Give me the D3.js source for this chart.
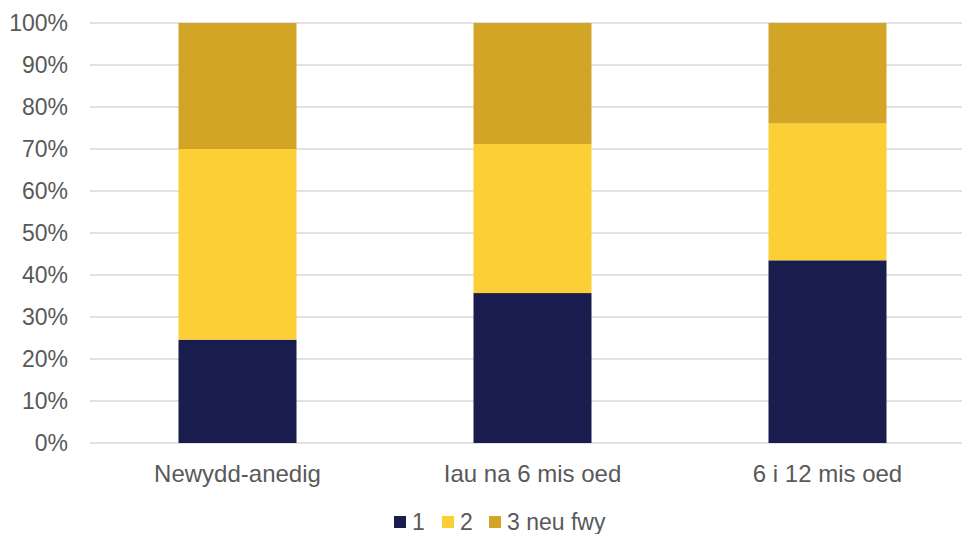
<!DOCTYPE html>
<html>
    <head>
        <title>Stacked 100% bars</title>
        <script src="https://d3js.org/d3.v7.min.js"></script>
        <style>
            body { margin: 0; background: #ffffff; }
            svg { display: block; }
            text { font-family: 'Liberation Sans', Arial, sans-serif; fill: #595959; }
        </style>
    </head>
    <body>
        <script>
            const categories = ['Newydd-anedig', 'Iau na 6 mis oed', '6 i 12 mis oed']
            const seriesNames = ['1', '2', '3 neu fwy']
            const seriesColors = ['#181D4E', '#FDCF36', '#D3A527']
            // share of each group, percent
            const values1 = [24.6, 35.7, 43.5]
            const values2 = [45.4, 35.5, 32.6]
            const values3 = [30.0, 28.8, 23.9]
            const yTicks = [0, 10, 20, 30, 40, 50, 60, 70, 80, 90, 100]

            const W = 962, H = 534
            const margin = { top: 23, right: 0, bottom: 91, left: 90 }

            const svg = d3.select('body').append('svg')
                .attr('width', W).attr('height', H)

            const rows = categories.map((c, i) => ({
                cat: c, s0: values1[i], s1: values2[i], s2: values3[i]
            }))
            const stack = d3.stack().keys(['s0', 's1', 's2'])(rows)

            const x = d3.scaleBand().domain(categories)
                .range([margin.left, margin.left + 885])
                .paddingInner(0.6).paddingOuter(0.3)
            const y = d3.scaleLinear().domain([0, 100])
                .range([H - margin.bottom, margin.top])

            // grid
            svg.append('g').selectAll('line')
                .data(yTicks).enter()
                .append('line')
                    .attr('x1', margin.left).attr('x2', W)
                    .attr('y1', d => y(d)).attr('y2', d => y(d))
                    .attr('stroke', '#d9d9d9').attr('stroke-width', 1.3)

            // bars
            svg.append('g').selectAll('g')
                .data(stack).enter()
                .append('g')
                    .attr('fill', (d, i) => seriesColors[i])
                .selectAll('rect')
                .data(d => d).enter()
                .append('rect')
                    .attr('x', d => x(d.data.cat))
                    .attr('width', x.bandwidth())
                    .attr('y', d => y(d[1]))
                    .attr('height', d => y(d[0]) - y(d[1]))

            // y axis
            const yAxis = d3.axisLeft(y).tickValues(yTicks)
                .tickFormat(d => d + '%').tickSize(0).tickPadding(22)
            const gy = svg.append('g')
                .attr('transform', `translate(${margin.left}, 0)`)
                .call(yAxis)
            gy.select('.domain').remove()
            gy.selectAll('text').style('font-size', '23px').attr('fill', '#595959')

            // x axis
            const xAxis = d3.axisBottom(x).tickSize(0).tickPadding(22)
            const gx = svg.append('g')
                .attr('transform', `translate(0, ${H - margin.bottom})`)
                .call(xAxis)
            gx.select('.domain').remove()
            gx.selectAll('text').style('font-size', '24px').attr('fill', '#595959')

            // legend
            const legendX = [394, 442, 489]
            const leg = svg.append('g').selectAll('g')
                .data(seriesNames).enter()
                .append('g')
                    .attr('transform', (d, i) => `translate(${legendX[i]}, 516)`)
            leg.append('rect')
                .attr('width', 12).attr('height', 12)
                .attr('fill', (d, i) => seriesColors[i])
            leg.append('text')
                .attr('x', 18).attr('y', 14)
                .style('font-size', '23px')
                .text(d => d)
        </script>
    </body>
</html>
